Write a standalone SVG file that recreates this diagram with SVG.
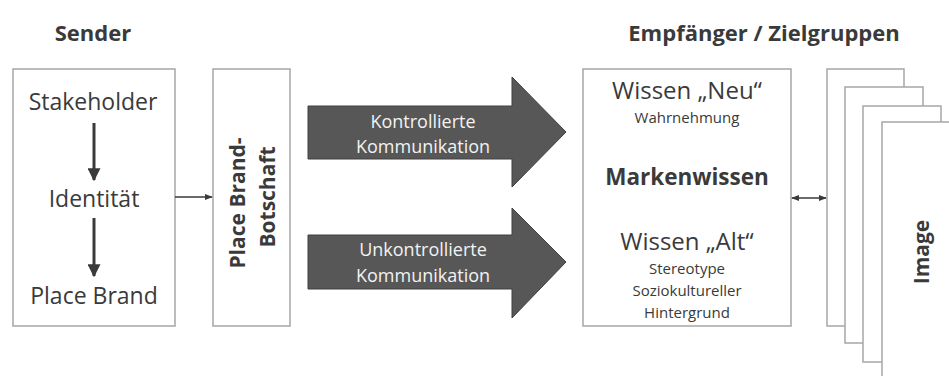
<svg xmlns="http://www.w3.org/2000/svg" width="949" height="376" viewBox="0 0 949 376">
  <defs>
    <style>
      text { font-family: "Open Sans", "Noto Sans", "Liberation Sans", sans-serif; fill: #3a3a3a; text-anchor: middle; }
      .head { font-size: 22px; font-weight: bold; }
      .rot { font-size: 21px; font-weight: bold; }
      .box { fill: #ffffff; stroke: #a6a6a6; stroke-width: 1.5; }
      .big { font-size: 23px; }
      .wissen { font-size: 24px; }
      .bold { font-weight: bold; font-size: 22.5px; }
      .small { font-size: 15px; }
      .arr { fill: #575757; stroke: #404040; stroke-width: 1; }
      .arrtext { font-size: 18px; fill: #f2f2f2; }
      .line { stroke: #3a3a3a; fill: none; }
    </style>
    <marker id="tip" viewBox="0 0 10 10" refX="9" refY="5" markerWidth="8" markerHeight="8" orient="auto-start-reverse" markerUnits="userSpaceOnUse">
      <path d="M0,1 L10,5 L0,9 z" fill="#3a3a3a"/>
    </marker>
    <marker id="bigtip" viewBox="0 0 10 10" refX="9" refY="5" markerWidth="13" markerHeight="13" orient="auto" markerUnits="userSpaceOnUse">
      <path d="M0,0 L10,5 L0,10 z" fill="#3a3a3a"/>
    </marker>
  </defs>

  <rect width="949" height="376" fill="#ffffff"/>

  <!-- column titles -->
  <text class="head" x="93" y="41">Sender</text>
  <text class="head" x="764" y="41">Empfänger / Zielgruppen</text>

  <!-- sender -->
  <g id="sender">
    <rect class="box" x="13" y="69" width="162" height="257"/>
    <text class="big" x="93" y="110">Stakeholder</text>
    <text class="big" x="94" y="207">Identität</text>
    <text class="big" x="94" y="304">Place Brand</text>
  </g>

  <!-- message -->
  <g id="botschaft">
    <rect class="box" x="213" y="69" width="77" height="257"/>
    <text class="rot" transform="translate(245,203) rotate(-90)">Place Brand-</text>
    <text class="rot" transform="translate(275,197) rotate(-90)">Botschaft</text>
  </g>

  <!-- communication channels -->
  <g id="kontrolliert">
    <path class="arr" d="M308,106 H512 V77 L566,132 L512,187 V159 H308 Z"/>
    <text class="arrtext" x="423" y="128">Kontrollierte</text>
    <text class="arrtext" x="423" y="153">Kommunikation</text>
  </g>
  <g id="unkontrolliert">
    <path class="arr" d="M308,235 H512 V208 L566,262 L512,318 V289 H308 Z"/>
    <text class="arrtext" x="423" y="256">Unkontrollierte</text>
    <text class="arrtext" x="423" y="282">Kommunikation</text>
  </g>

  <!-- brand knowledge -->
  <g id="markenwissen">
    <rect class="box" x="583" y="69" width="208" height="257"/>
    <text class="wissen" x="687" y="99">Wissen „Neu“</text>
    <text class="small" x="687" y="123">Wahrnehmung</text>
    <text class="bold" x="687" y="185">Markenwissen</text>
    <text class="wissen" x="687" y="250">Wissen „Alt“</text>
    <text class="small" x="687" y="274">Stereotype</text>
    <text class="small" x="687" y="296">Soziokultureller</text>
    <text class="small" x="687" y="318">Hintergrund</text>
  </g>

  <!-- stacked image pages -->
  <g id="image">
    <rect class="box" x="827" y="69" width="77" height="257"/>
    <rect class="box" x="845" y="87" width="78" height="256"/>
    <rect class="box" x="863" y="106" width="78" height="256"/>
    <rect class="box" x="882" y="122" width="80" height="270"/>
    <text class="rot" transform="translate(929,252) rotate(-90)">Image</text>
  </g>

  <!-- connectors -->
  <g id="connectors">
    <line class="line" x1="94" y1="123" x2="94" y2="180" stroke-width="3" marker-end="url(#bigtip)"/>
    <line class="line" x1="94" y1="218" x2="94" y2="276" stroke-width="3" marker-end="url(#bigtip)"/>
    <line class="line" x1="175" y1="197" x2="212" y2="197" stroke-width="1.3" marker-end="url(#tip)"/>
    <line class="line" x1="792" y1="198" x2="826" y2="198" stroke-width="1.5" marker-start="url(#tip)" marker-end="url(#tip)"/>
  </g>
</svg>
